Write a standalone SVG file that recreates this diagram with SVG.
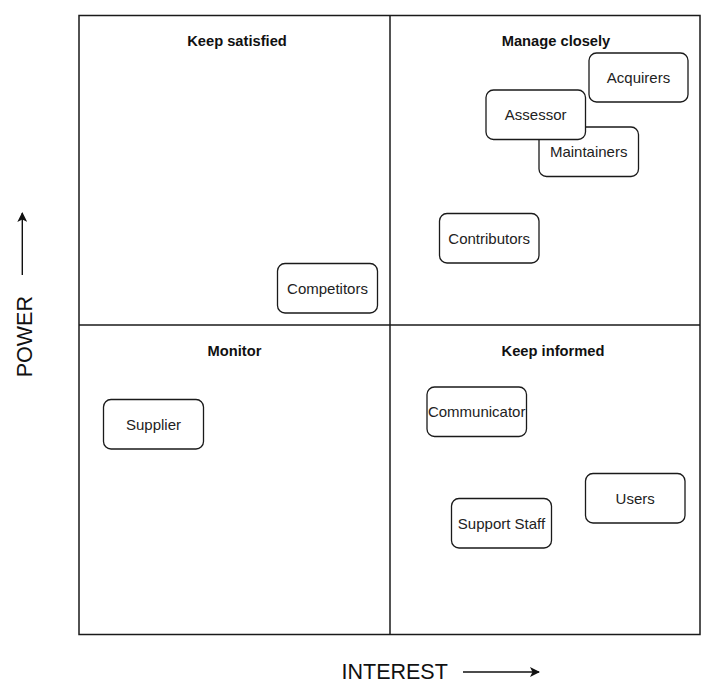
<svg xmlns="http://www.w3.org/2000/svg" width="720" height="693" viewBox="0 0 720 693">
<style>
.frame{fill:none;stroke:#1a1a1a;stroke-width:1.5}
.node rect{fill:#fff;stroke:#1a1a1a;stroke-width:1.3}
.node text{font-family:"Liberation Sans",Arial,sans-serif;font-size:15px;fill:#222;text-anchor:middle}
.head{font-family:"Liberation Sans",Arial,sans-serif;font-size:14.7px;font-weight:bold;fill:#111;text-anchor:middle}
.axis{font-family:"Liberation Sans",Arial,sans-serif;font-size:21.5px;fill:#111}
.arrow{stroke:#111;stroke-width:1.4;fill:none}
</style>
<defs>
<marker id="ah" viewBox="0 0 10 10" refX="9" refY="5" markerWidth="10" markerHeight="10" markerUnits="userSpaceOnUse" orient="auto">
<path d="M0,0 L10,5 L0,10 L2.5,5 Z" fill="#111"/>
</marker>
</defs>
<rect width="720" height="693" fill="#fff"/>
<g id="matrix">
<rect class="frame" x="79" y="15.5" width="621" height="619"/>
<line class="frame" x1="390" y1="15.5" x2="390" y2="634.5"/>
<line class="frame" x1="79" y1="325" x2="700" y2="325"/>
<text class="head" x="237" y="46">Keep satisfied</text>
<text class="head" x="556" y="46">Manage closely</text>
<text class="head" x="234.5" y="356">Monitor</text>
<text class="head" x="553" y="356">Keep informed</text>
</g>
<g id="axes">
<text class="axis" x="341.5" y="679">INTEREST</text>
<text class="axis" transform="translate(31.5,336.7) rotate(-90)" text-anchor="middle">POWER</text>
</g>
<g id="connectors">
<line class="arrow" x1="463" y1="672" x2="539" y2="672" marker-end="url(#ah)"/>
<line class="arrow" x1="22.3" y1="275" x2="22.3" y2="213" marker-end="url(#ah)"/>
</g>
<g id="acquirers" class="node"><rect x="589" y="53" width="99" height="49" rx="7.5"/><text x="638.5" y="82.5">Acquirers</text></g>
<g id="maintainers" class="node"><rect x="539" y="127" width="99.5" height="49.5" rx="7.5"/><text x="588.7" y="157">Maintainers</text></g>
<g id="assessor" class="node"><rect x="486" y="90" width="99.5" height="49.5" rx="7.5"/><text x="535.7" y="120">Assessor</text></g>
<g id="contributors" class="node"><rect x="439.5" y="213.5" width="99.5" height="49.5" rx="7.5"/><text x="489.2" y="243.5">Contributors</text></g>
<g id="competitors" class="node"><rect x="277.5" y="263.5" width="100" height="49.5" rx="7.5"/><text x="327.5" y="293.5">Competitors</text></g>
<g id="supplier" class="node"><rect x="103.5" y="399.5" width="100" height="49.5" rx="7.5"/><text x="153.5" y="429.5">Supplier</text></g>
<g id="communicator" class="node"><rect x="427" y="387" width="99.5" height="49.5" rx="7.5"/><text x="476.7" y="417">Communicator</text></g>
<g id="users" class="node"><rect x="585.5" y="473.5" width="99.5" height="49.5" rx="7.5"/><text x="635.2" y="503.5">Users</text></g>
<g id="support-staff" class="node"><rect x="451.5" y="498.5" width="100" height="49.5" rx="7.5"/><text x="501.5" y="528.5">Support Staff</text></g>
</svg>
